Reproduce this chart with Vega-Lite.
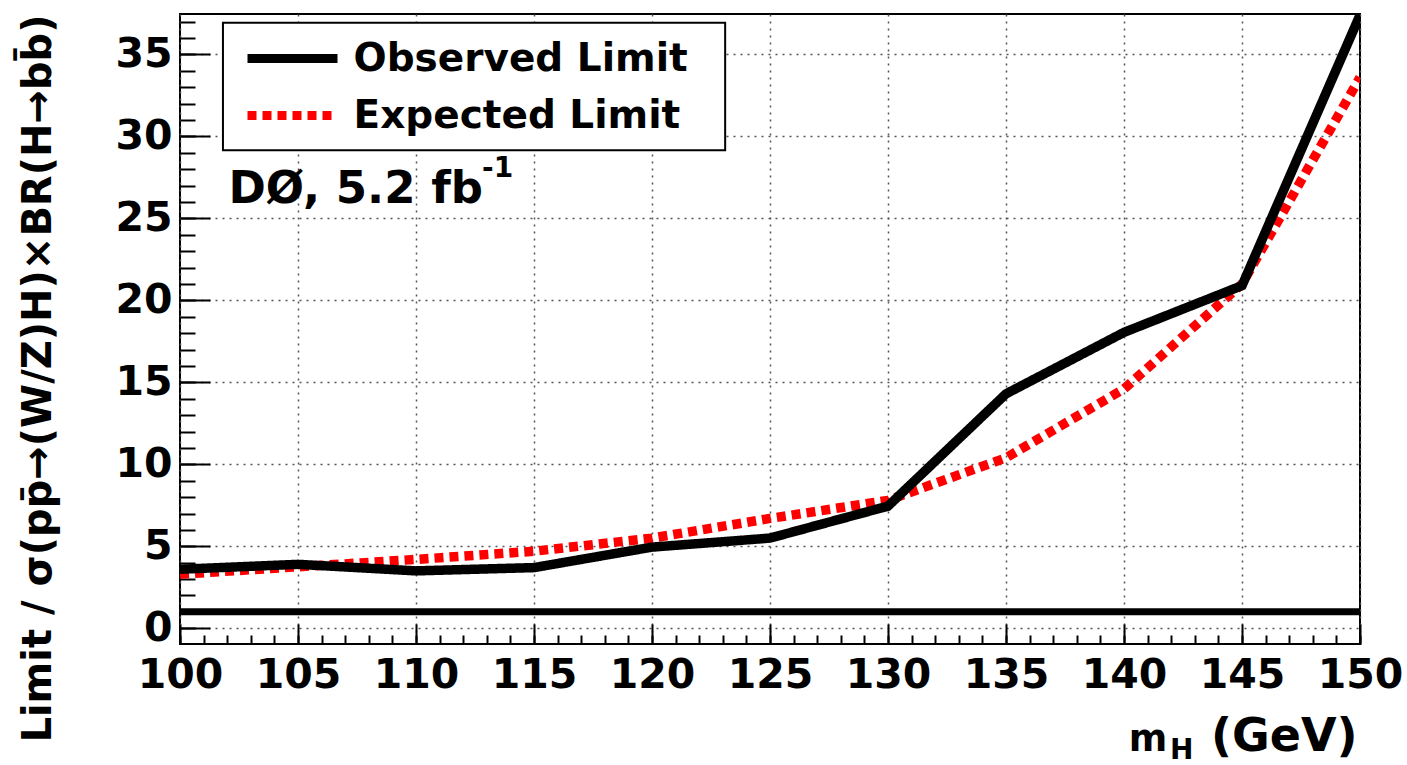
{
  "$schema": "https://vega.github.io/schema/vega-lite/v6.json",
  "width": 1180,
  "height": 630,
  "autosize": {"type": "none"},
  "padding": {"left": 180, "top": 14, "right": 47, "bottom": 121},
  "background": "#ffffff",
  "config": {
    "view": {"stroke": "#000000", "strokeWidth": 2},
    "font": "DejaVu Sans",
    "axis": {
      "domain": false,
      "tickColor": "#000000",
      "tickWidth": 2,
      "gridColor": "#555555",
      "gridDash": [2, 5],
      "gridWidth": 1.5,
      "gridOpacity": 1,
      "labelFont": "DejaVu Sans",
      "labelFontWeight": "bold",
      "labelFontSize": 41,
      "labelColor": "#000000",
      "labelFlush": false,
      "labelOverlap": false,
      "titleFont": "DejaVu Sans",
      "titleFontWeight": "bold",
      "titleColor": "#000000"
    }
  },
  "datasets": {
    "limits": [
      {"mH": 100, "limit": 3.3, "series": "Expected Limit"},
      {"mH": 105, "limit": 3.75, "series": "Expected Limit"},
      {"mH": 110, "limit": 4.2, "series": "Expected Limit"},
      {"mH": 115, "limit": 4.7, "series": "Expected Limit"},
      {"mH": 120, "limit": 5.5, "series": "Expected Limit"},
      {"mH": 125, "limit": 6.7, "series": "Expected Limit"},
      {"mH": 130, "limit": 7.8, "series": "Expected Limit"},
      {"mH": 135, "limit": 10.4, "series": "Expected Limit"},
      {"mH": 140, "limit": 14.6, "series": "Expected Limit"},
      {"mH": 145, "limit": 21.0, "series": "Expected Limit"},
      {"mH": 150, "limit": 33.6, "series": "Expected Limit"},
      {"mH": 100, "limit": 3.6, "series": "Observed Limit"},
      {"mH": 105, "limit": 3.9, "series": "Observed Limit"},
      {"mH": 110, "limit": 3.5, "series": "Observed Limit"},
      {"mH": 115, "limit": 3.7, "series": "Observed Limit"},
      {"mH": 120, "limit": 4.95, "series": "Observed Limit"},
      {"mH": 125, "limit": 5.5, "series": "Observed Limit"},
      {"mH": 130, "limit": 7.45, "series": "Observed Limit"},
      {"mH": 135, "limit": 14.3, "series": "Observed Limit"},
      {"mH": 140, "limit": 18.05, "series": "Observed Limit"},
      {"mH": 145, "limit": 20.9, "series": "Observed Limit"},
      {"mH": 150, "limit": 37.4, "series": "Observed Limit"}
    ]
  },
  "resolve": {"axis": {"x": "independent", "y": "independent"}},
  "layer": [
    {
      "data": {"values": [{}]},
      "mark": {"type": "rect", "fill": "#ffffff", "stroke": "#000000", "strokeWidth": 2},
      "encoding": {
        "x": {"datum": 101.82, "type": "quantitative", "scale": {"domain": [100, 150], "nice": false, "zero": false}, "axis": null},
        "x2": {"datum": 123.1},
        "y": {"datum": 36.94, "type": "quantitative", "scale": {"domain": [-0.96, 37.47], "nice": false, "zero": false}, "axis": null},
        "y2": {"datum": 29.16}
      }
    },
    {
      "data": {"name": "limits"},
      "mark": {"type": "line", "strokeWidth": 9.5, "strokeCap": "butt", "strokeJoin": "miter", "clip": true},
      "encoding": {
        "x": {
          "field": "mH", "type": "quantitative",
          "scale": {"domain": [100, 150], "nice": false, "zero": false},
          "axis": {
            "orient": "bottom",
            "values": [100, 105, 110, 115, 120, 125, 130, 135, 140, 145, 150],
            "tickSize": -20,
            "grid": true,
            "labelPadding": 31,
            "title": null
          }
        },
        "y": {
          "field": "limit", "type": "quantitative",
          "scale": {"domain": [-0.96, 37.47], "nice": false, "zero": false},
          "axis": {
            "orient": "left",
            "values": [0, 5, 10, 15, 20, 25, 30, 35],
            "tickSize": -30,
            "grid": true,
            "labelPadding": 38,
            "title": "Limit / σ(pp̄→(W/Z)H)×BR(H→bb̄)",
            "titleFontSize": 40,
            "titleAnchor": "end",
            "titlePadding": 56
          }
        },
        "color": {
          "field": "series", "type": "nominal",
          "scale": {"domain": ["Observed Limit", "Expected Limit"], "range": ["#000000", "#ff0000"]},
          "legend": {
            "orient": "none",
            "legendX": 85.5,
            "legendY": 17.5,
            "title": null,
            "symbolType": "M-2,0H2",
            "symbolSize": 2025,
            "symbolStrokeWidth": 9,
            "labelFont": "DejaVu Sans",
            "labelFontWeight": "bold",
            "labelFontSize": 39,
            "labelColor": "#000000",
            "labelLimit": 800,
            "labelOffset": 34,
            "rowPadding": 10,
            "padding": 0
          }
        },
        "strokeDash": {
          "field": "series", "type": "nominal",
          "scale": {"domain": ["Observed Limit", "Expected Limit"], "range": [[1, 0], [9, 6]]},
          "legend": {
            "orient": "none",
            "legendX": 85.5,
            "legendY": 17.5,
            "title": null,
            "symbolType": "M-2,0H2",
            "symbolSize": 2025,
            "symbolStrokeWidth": 9,
            "labelFont": "DejaVu Sans",
            "labelFontWeight": "bold",
            "labelFontSize": 39,
            "labelColor": "#000000",
            "labelLimit": 800,
            "labelOffset": 34,
            "rowPadding": 10,
            "padding": 0
          }
        }
      }
    },
    {
      "data": {"values": [{}]},
      "mark": {"type": "rule", "color": "#000000", "strokeWidth": 7},
      "encoding": {
        "y": {
          "datum": 1, "type": "quantitative",
          "scale": {"domain": [-0.96, 37.47], "nice": false, "zero": false},
          "axis": null
        }
      }
    },
    {
      "data": {"values": [{}]},
      "mark": {"type": "text", "text": "DØ, 5.2 fb", "align": "left", "baseline": "alphabetic", "font": "DejaVu Sans", "fontWeight": "bold", "fontSize": 45, "color": "#000000"},
      "encoding": {
        "x": {
          "datum": 102.05, "type": "quantitative",
          "scale": {"domain": [100, 150], "nice": false, "zero": false},
          "axis": {
            "orient": "bottom",
            "values": [100, 101, 102, 103, 104, 105, 106, 107, 108, 109, 110, 111, 112, 113, 114, 115, 116, 117, 118, 119, 120, 121, 122, 123, 124, 125, 126, 127, 128, 129, 130, 131, 132, 133, 134, 135, 136, 137, 138, 139, 140, 141, 142, 143, 144, 145, 146, 147, 148, 149, 150],
            "tickSize": -9,
            "labels": false,
            "grid": false,
            "title": null
          }
        },
        "y": {
          "datum": 25.93, "type": "quantitative",
          "scale": {"domain": [-0.96, 37.47], "nice": false, "zero": false},
          "axis": {
            "orient": "left",
            "values": [0, 1, 2, 3, 4, 5, 6, 7, 8, 9, 10, 11, 12, 13, 14, 15, 16, 17, 18, 19, 20, 21, 22, 23, 24, 25, 26, 27, 28, 29, 30, 31, 32, 33, 34, 35, 36, 37],
            "tickSize": -15,
            "labels": false,
            "grid": false,
            "title": null
          }
        }
      }
    },
    {
      "data": {"values": [{}]},
      "mark": {"type": "text", "text": "-1", "align": "left", "baseline": "alphabetic", "font": "DejaVu Sans", "fontWeight": "bold", "fontSize": 28, "color": "#000000"},
      "encoding": {
        "x": {"datum": 112.8, "type": "quantitative", "scale": {"domain": [100, 150], "nice": false, "zero": false}, "axis": null},
        "y": {"datum": 27.5, "type": "quantitative", "scale": {"domain": [-0.96, 37.47], "nice": false, "zero": false}, "axis": null}
      }
    },
    {
      "data": {"values": [{}]},
      "mark": {"type": "text", "text": "(GeV)", "align": "right", "baseline": "alphabetic", "font": "DejaVu Sans", "fontWeight": "bold", "fontSize": 46, "color": "#000000"},
      "encoding": {
        "x": {"datum": 149.9, "type": "quantitative", "scale": {"domain": [100, 150], "nice": false, "zero": false}, "axis": null},
        "y": {"datum": -7.47, "type": "quantitative", "scale": {"domain": [-0.96, 37.47], "nice": false, "zero": false}, "axis": null}
      }
    },
    {
      "data": {"values": [{}]},
      "mark": {"type": "text", "text": "m", "align": "left", "baseline": "alphabetic", "font": "DejaVu Sans", "fontWeight": "bold", "fontSize": 37, "color": "#000000"},
      "encoding": {
        "x": {"datum": 140.2, "type": "quantitative", "scale": {"domain": [100, 150], "nice": false, "zero": false}, "axis": null},
        "y": {"datum": -7.47, "type": "quantitative", "scale": {"domain": [-0.96, 37.47], "nice": false, "zero": false}, "axis": null}
      }
    },
    {
      "data": {"values": [{}]},
      "mark": {"type": "text", "text": "H", "align": "left", "baseline": "alphabetic", "font": "DejaVu Sans", "fontWeight": "bold", "fontSize": 28, "color": "#000000"},
      "encoding": {
        "x": {"datum": 141.95, "type": "quantitative", "scale": {"domain": [100, 150], "nice": false, "zero": false}, "axis": null},
        "y": {"datum": -7.95, "type": "quantitative", "scale": {"domain": [-0.96, 37.47], "nice": false, "zero": false}, "axis": null}
      }
    }
  ]
}
